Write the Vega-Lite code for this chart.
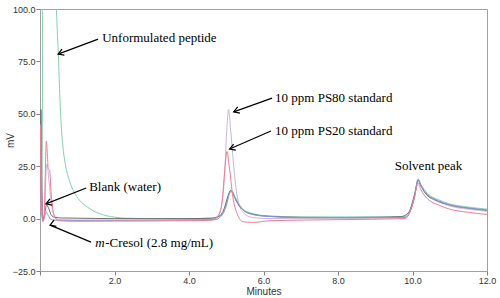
{
  "$schema": "https://vega.github.io/schema/vega-lite/v6.json",
  "width": 447,
  "height": 262,
  "autosize": {"type": "none"},
  "padding": {"left": 40, "top": 9, "right": 13, "bottom": 27},
  "background": "white",
  "config": {
    "view": {"stroke": "#a0a0a0", "strokeWidth": 1},
    "axis": {
      "labelFont": "Liberation Sans", "labelFontSize": 9, "labelColor": "#333333",
      "titleFont": "Liberation Sans", "titleFontSize": 10, "titleFontWeight": "normal", "titleColor": "#333333",
      "domainColor": "#a0a0a0", "tickColor": "#808080", "grid": false
    }
  },
  "datasets": {
    "traces": [
      {"series": "Unformulated", "t": 0.0, "mv": 0},
      {"series": "Unformulated", "t": 0.04, "mv": 2},
      {"series": "Unformulated", "t": 0.06, "mv": 30},
      {"series": "Unformulated", "t": 0.075, "mv": 110},
      {"series": "Unformulated", "t": 0.42, "mv": 110},
      {"series": "Unformulated", "t": 0.44, "mv": 100},
      {"series": "Unformulated", "t": 0.5, "mv": 75},
      {"series": "Unformulated", "t": 0.54, "mv": 55},
      {"series": "Unformulated", "t": 0.58, "mv": 42},
      {"series": "Unformulated", "t": 0.63, "mv": 32},
      {"series": "Unformulated", "t": 0.69, "mv": 25},
      {"series": "Unformulated", "t": 0.8, "mv": 17.5},
      {"series": "Unformulated", "t": 0.95, "mv": 11.5},
      {"series": "Unformulated", "t": 1.1, "mv": 8},
      {"series": "Unformulated", "t": 1.27, "mv": 5.5},
      {"series": "Unformulated", "t": 1.45, "mv": 3.5},
      {"series": "Unformulated", "t": 1.6, "mv": 2.4},
      {"series": "Unformulated", "t": 1.8, "mv": 1.3},
      {"series": "Unformulated", "t": 2.0, "mv": 0.7},
      {"series": "Unformulated", "t": 2.3, "mv": 0.2},
      {"series": "Unformulated", "t": 3.0, "mv": 0},
      {"series": "Unformulated", "t": 4.0, "mv": 0},
      {"series": "Unformulated", "t": 4.7, "mv": 0.3},
      {"series": "Unformulated", "t": 4.9, "mv": 3},
      {"series": "Unformulated", "t": 5.0, "mv": 7},
      {"series": "Unformulated", "t": 5.1, "mv": 12.8},
      {"series": "Unformulated", "t": 5.14, "mv": 13.3},
      {"series": "Unformulated", "t": 5.25, "mv": 10},
      {"series": "Unformulated", "t": 5.4, "mv": 5.5},
      {"series": "Unformulated", "t": 5.6, "mv": 3},
      {"series": "Unformulated", "t": 6.0, "mv": 1.5},
      {"series": "Unformulated", "t": 7.0, "mv": 0.8},
      {"series": "Unformulated", "t": 8.5, "mv": 0.8},
      {"series": "Unformulated", "t": 9.8, "mv": 1},
      {"series": "Unformulated", "t": 9.95, "mv": 4.5},
      {"series": "Unformulated", "t": 10.05, "mv": 10.5},
      {"series": "Unformulated", "t": 10.15, "mv": 19},
      {"series": "Unformulated", "t": 10.22, "mv": 16.5},
      {"series": "Unformulated", "t": 10.4, "mv": 12},
      {"series": "Unformulated", "t": 10.7, "mv": 9},
      {"series": "Unformulated", "t": 11.0, "mv": 7},
      {"series": "Unformulated", "t": 11.5, "mv": 5.5},
      {"series": "Unformulated", "t": 12.0, "mv": 4.5},

      {"series": "PS80", "t": 0.0, "mv": 5},
      {"series": "PS80", "t": 0.015, "mv": 50},
      {"series": "PS80", "t": 0.04, "mv": 15},
      {"series": "PS80", "t": 0.07, "mv": -1},
      {"series": "PS80", "t": 0.12, "mv": 2},
      {"series": "PS80", "t": 0.16, "mv": 22},
      {"series": "PS80", "t": 0.19, "mv": 26},
      {"series": "PS80", "t": 0.24, "mv": 18},
      {"series": "PS80", "t": 0.3, "mv": 8},
      {"series": "PS80", "t": 0.38, "mv": 1.5},
      {"series": "PS80", "t": 0.5, "mv": -0.5},
      {"series": "PS80", "t": 1.0, "mv": -0.8},
      {"series": "PS80", "t": 2.0, "mv": -0.8},
      {"series": "PS80", "t": 4.0, "mv": -0.6},
      {"series": "PS80", "t": 4.7, "mv": -0.3},
      {"series": "PS80", "t": 4.85, "mv": 4},
      {"series": "PS80", "t": 4.95, "mv": 20},
      {"series": "PS80", "t": 5.02, "mv": 44},
      {"series": "PS80", "t": 5.06, "mv": 52},
      {"series": "PS80", "t": 5.12, "mv": 42},
      {"series": "PS80", "t": 5.2, "mv": 25},
      {"series": "PS80", "t": 5.3, "mv": 10},
      {"series": "PS80", "t": 5.45, "mv": 3},
      {"series": "PS80", "t": 5.7, "mv": 0.5},
      {"series": "PS80", "t": 6.2, "mv": 0},
      {"series": "PS80", "t": 8.0, "mv": 0},
      {"series": "PS80", "t": 9.8, "mv": 0.5},
      {"series": "PS80", "t": 9.95, "mv": 4},
      {"series": "PS80", "t": 10.05, "mv": 10},
      {"series": "PS80", "t": 10.15, "mv": 18},
      {"series": "PS80", "t": 10.22, "mv": 15.5},
      {"series": "PS80", "t": 10.4, "mv": 11},
      {"series": "PS80", "t": 10.7, "mv": 8},
      {"series": "PS80", "t": 11.0, "mv": 6},
      {"series": "PS80", "t": 11.5, "mv": 4.5},
      {"series": "PS80", "t": 12.0, "mv": 3.5},

      {"series": "Blank", "t": 0.0, "mv": 8},
      {"series": "Blank", "t": 0.01, "mv": 35},
      {"series": "Blank", "t": 0.025, "mv": 52},
      {"series": "Blank", "t": 0.045, "mv": 20},
      {"series": "Blank", "t": 0.075, "mv": -0.5},
      {"series": "Blank", "t": 0.12, "mv": 2},
      {"series": "Blank", "t": 0.18, "mv": 6.5},
      {"series": "Blank", "t": 0.23, "mv": 5},
      {"series": "Blank", "t": 0.3, "mv": 1.8},
      {"series": "Blank", "t": 0.4, "mv": 0.6},
      {"series": "Blank", "t": 0.6, "mv": 0.3},
      {"series": "Blank", "t": 1.0, "mv": 0.2},
      {"series": "Blank", "t": 2.0, "mv": 0},
      {"series": "Blank", "t": 4.0, "mv": 0},
      {"series": "Blank", "t": 4.6, "mv": 0.2},
      {"series": "Blank", "t": 4.85, "mv": 1.5},
      {"series": "Blank", "t": 4.95, "mv": 5},
      {"series": "Blank", "t": 5.05, "mv": 11},
      {"series": "Blank", "t": 5.12, "mv": 13.5},
      {"series": "Blank", "t": 5.2, "mv": 11},
      {"series": "Blank", "t": 5.35, "mv": 6},
      {"series": "Blank", "t": 5.5, "mv": 3.5},
      {"series": "Blank", "t": 5.8, "mv": 1.8},
      {"series": "Blank", "t": 6.2, "mv": 1},
      {"series": "Blank", "t": 7.0, "mv": 0.6},
      {"series": "Blank", "t": 8.0, "mv": 0.5},
      {"series": "Blank", "t": 9.0, "mv": 0.6},
      {"series": "Blank", "t": 9.7, "mv": 1},
      {"series": "Blank", "t": 9.9, "mv": 3},
      {"series": "Blank", "t": 10.0, "mv": 8},
      {"series": "Blank", "t": 10.1, "mv": 15},
      {"series": "Blank", "t": 10.15, "mv": 18.5},
      {"series": "Blank", "t": 10.22, "mv": 16},
      {"series": "Blank", "t": 10.35, "mv": 12},
      {"series": "Blank", "t": 10.6, "mv": 9},
      {"series": "Blank", "t": 11.0, "mv": 6.5},
      {"series": "Blank", "t": 11.5, "mv": 5},
      {"series": "Blank", "t": 12.0, "mv": 4},

      {"series": "Cresol", "t": 0.0, "mv": 4},
      {"series": "Cresol", "t": 0.015, "mv": 45},
      {"series": "Cresol", "t": 0.045, "mv": 8},
      {"series": "Cresol", "t": 0.075, "mv": -1},
      {"series": "Cresol", "t": 0.12, "mv": 1},
      {"series": "Cresol", "t": 0.17, "mv": 3},
      {"series": "Cresol", "t": 0.22, "mv": 1.5},
      {"series": "Cresol", "t": 0.3, "mv": -0.5},
      {"series": "Cresol", "t": 0.5, "mv": -0.8},
      {"series": "Cresol", "t": 2.0, "mv": -0.8},
      {"series": "Cresol", "t": 4.7, "mv": -0.5},
      {"series": "Cresol", "t": 4.9, "mv": 2},
      {"series": "Cresol", "t": 5.0, "mv": 6},
      {"series": "Cresol", "t": 5.1, "mv": 12.5},
      {"series": "Cresol", "t": 5.15, "mv": 13},
      {"series": "Cresol", "t": 5.25, "mv": 9},
      {"series": "Cresol", "t": 5.4, "mv": 5},
      {"series": "Cresol", "t": 5.6, "mv": 2.5},
      {"series": "Cresol", "t": 6.0, "mv": 1.2},
      {"series": "Cresol", "t": 7.0, "mv": 0.5},
      {"series": "Cresol", "t": 9.8, "mv": 0.6},
      {"series": "Cresol", "t": 9.95, "mv": 4},
      {"series": "Cresol", "t": 10.05, "mv": 10},
      {"series": "Cresol", "t": 10.15, "mv": 18.5},
      {"series": "Cresol", "t": 10.22, "mv": 16},
      {"series": "Cresol", "t": 10.4, "mv": 11.5},
      {"series": "Cresol", "t": 10.7, "mv": 8.5},
      {"series": "Cresol", "t": 11.0, "mv": 6.5},
      {"series": "Cresol", "t": 11.5, "mv": 5},
      {"series": "Cresol", "t": 12.0, "mv": 4},

      {"series": "PS20", "t": 0.0, "mv": 3},
      {"series": "PS20", "t": 0.015, "mv": 44},
      {"series": "PS20", "t": 0.045, "mv": 10},
      {"series": "PS20", "t": 0.075, "mv": -1.5},
      {"series": "PS20", "t": 0.11, "mv": 0},
      {"series": "PS20", "t": 0.14, "mv": 20},
      {"series": "PS20", "t": 0.17, "mv": 37},
      {"series": "PS20", "t": 0.2, "mv": 30},
      {"series": "PS20", "t": 0.22, "mv": 24},
      {"series": "PS20", "t": 0.26, "mv": 23},
      {"series": "PS20", "t": 0.3, "mv": 12},
      {"series": "PS20", "t": 0.35, "mv": 4},
      {"series": "PS20", "t": 0.42, "mv": 0},
      {"series": "PS20", "t": 0.5, "mv": -1},
      {"series": "PS20", "t": 1.0, "mv": -1.3},
      {"series": "PS20", "t": 2.0, "mv": -1.2},
      {"series": "PS20", "t": 4.0, "mv": -1},
      {"series": "PS20", "t": 4.6, "mv": -0.8},
      {"series": "PS20", "t": 4.8, "mv": 2},
      {"series": "PS20", "t": 4.9, "mv": 10},
      {"series": "PS20", "t": 4.97, "mv": 25},
      {"series": "PS20", "t": 5.02, "mv": 32},
      {"series": "PS20", "t": 5.08, "mv": 25},
      {"series": "PS20", "t": 5.18, "mv": 10},
      {"series": "PS20", "t": 5.3, "mv": 2},
      {"series": "PS20", "t": 5.45, "mv": -1.5},
      {"series": "PS20", "t": 5.7, "mv": -1.8},
      {"series": "PS20", "t": 6.2, "mv": -1},
      {"series": "PS20", "t": 8.0, "mv": -0.5},
      {"series": "PS20", "t": 9.8, "mv": 0},
      {"series": "PS20", "t": 9.95, "mv": 4},
      {"series": "PS20", "t": 10.05, "mv": 10},
      {"series": "PS20", "t": 10.15, "mv": 17},
      {"series": "PS20", "t": 10.22, "mv": 14},
      {"series": "PS20", "t": 10.4, "mv": 9.5},
      {"series": "PS20", "t": 10.7, "mv": 6.5},
      {"series": "PS20", "t": 11.0, "mv": 4.5},
      {"series": "PS20", "t": 11.5, "mv": 3},
      {"series": "PS20", "t": 12.0, "mv": 2}
    ],
    "labels": [
      {"label": "Unformulated peptide", "t": 1.67, "mv": 86.2},
      {"label": "10 ppm PS80 standard", "t": 6.31, "mv": 57.5},
      {"label": "10 ppm PS20 standard", "t": 6.31, "mv": 41.8},
      {"label": "Blank (water)", "t": 1.32, "mv": 15.1},
      {"label": "-Cresol (2.8 mg/mL)", "t": 1.75, "mv": -11.7}
    ],
    "centered": [
      {"label": "Solvent peak", "t": 10.43, "mv": 25.1}
    ],
    "italic": [
      {"label": "m", "t": 1.48, "mv": -11.7}
    ],
    "arrows": [
      {"name": "Unformulated", "t1": 1.56, "v1": 85.6, "t2": 0.485, "v2": 78.5},
      {"name": "PS80", "t1": 6.23, "v1": 57.5, "t2": 5.2, "v2": 50.9},
      {"name": "PS20", "t1": 6.2, "v1": 41.8, "t2": 5.09, "v2": 33.2},
      {"name": "Blank", "t1": 1.24, "v1": 14.6, "t2": 0.16, "v2": 7.0},
      {"name": "Cresol", "t1": 1.37, "v1": -11.2, "t2": 0.27, "v2": -3.1}
    ]
  },
  "layer": [
    {
      "data": {"name": "traces"},
      "mark": {"type": "line", "strokeWidth": 1, "clip": true, "interpolate": "monotone"},
      "encoding": {
        "x": {
          "field": "t", "type": "quantitative",
          "scale": {"domain": [0, 12], "nice": false, "zero": false},
          "axis": {
            "title": "Minutes", "titlePadding": 1,
            "values": [0,0.25,0.5,0.75,1,1.25,1.5,1.75,2,2.25,2.5,2.75,3,3.25,3.5,3.75,4,4.25,4.5,4.75,5,5.25,5.5,5.75,6,6.25,6.5,6.75,7,7.25,7.5,7.75,8,8.25,8.5,8.75,9,9.25,9.5,9.75,10,10.25,10.5,10.75,11,11.25,11.5,11.75,12],
            "labelExpr": "datum.value % 2 === 0 && datum.value > 0 ? format(datum.value, '.1f') : ''",
            "tickSize": {"condition": {"test": "datum.value % 2 === 0", "value": 4}, "value": 2},
            "labelPadding": 1, "labelFlush": false, "labelOverlap": false
          }
        },
        "y": {
          "field": "mv", "type": "quantitative",
          "scale": {"domain": [-25, 100], "nice": false, "zero": false},
          "axis": {
            "title": "mV", "titleX": -30, "titleY": 131, "titleAngle": -90, "titleAlign": "center", "titleBaseline": "middle",
            "values": [-25, 0, 25, 50, 75, 100],
            "format": ".1f",
            "tickSize": 4,
            "labelPadding": 1, "labelOverlap": false, "labelFlush": false
          }
        },
        "color": {
          "field": "series", "type": "nominal", "legend": null,
          "scale": {
            "domain": ["Unformulated", "PS80", "Blank", "Cresol", "PS20"],
            "range": ["#86d0ad", "#c9b6d9", "#6e6e6e", "#8a93e0", "#ee7d92"]
          }
        },
        "order": {"field": "t", "type": "quantitative"}
      }
    },
    {
      "data": {"name": "arrows"},
      "mark": {"type": "rule", "color": "black", "strokeWidth": 1.2},
      "encoding": {
        "x": {"field": "t1", "type": "quantitative"},
        "y": {"field": "v1", "type": "quantitative"},
        "x2": {"field": "t2"},
        "y2": {"field": "v2"}
      }
    },
    {
      "data": {"name": "arrows"},
      "mark": {"type": "point", "shape": "M-1,-0.6L0,0L-1,0.6", "filled": false, "stroke": "black", "strokeWidth": 1.2, "size": 120, "opacity": 1},
      "encoding": {
        "x": {"field": "t2", "type": "quantitative"},
        "y": {"field": "v2", "type": "quantitative"},
        "angle": {
          "field": "name", "type": "nominal",
          "scale": {"domain": ["Unformulated", "PS80", "PS20", "Blank", "Cresol"], "range": [159.4, 159.8, 156.3, 158.2, 202.5]}
        }
      }
    },
    {
      "data": {"name": "labels"},
      "mark": {"type": "text", "font": "Liberation Serif", "fontSize": 13, "align": "left", "baseline": "middle", "color": "black"},
      "encoding": {
        "x": {"field": "t", "type": "quantitative"},
        "y": {"field": "mv", "type": "quantitative"},
        "text": {"field": "label"}
      }
    },
    {
      "data": {"name": "centered"},
      "mark": {"type": "text", "font": "Liberation Serif", "fontSize": 13, "align": "center", "baseline": "middle", "color": "black"},
      "encoding": {
        "x": {"field": "t", "type": "quantitative"},
        "y": {"field": "mv", "type": "quantitative"},
        "text": {"field": "label"}
      }
    },
    {
      "data": {"name": "italic"},
      "mark": {"type": "text", "font": "Liberation Serif", "fontSize": 13, "fontStyle": "italic", "align": "left", "baseline": "middle", "color": "black"},
      "encoding": {
        "x": {"field": "t", "type": "quantitative"},
        "y": {"field": "mv", "type": "quantitative"},
        "text": {"field": "label"}
      }
    }
  ]
}
